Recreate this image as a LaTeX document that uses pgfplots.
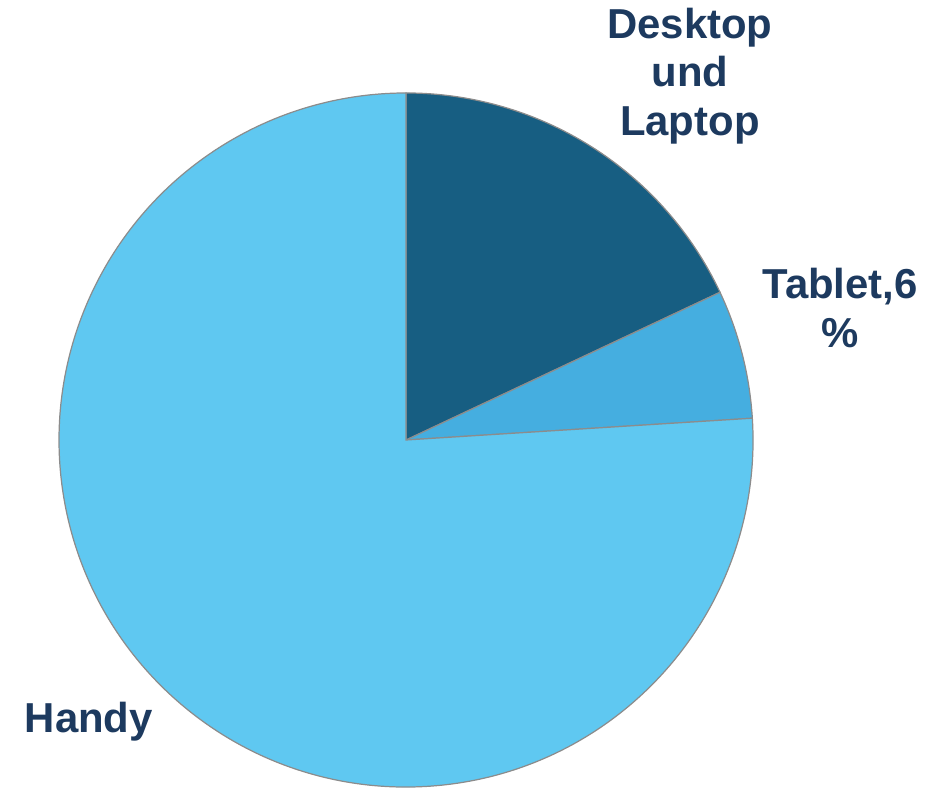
\documentclass[border=0pt]{standalone}
\usepackage{fontspec}
\setmainfont{Liberation Sans}
\usepackage{pgfplots}
\pgfplotsset{compat=1.18}

\definecolor{cDesk}{HTML}{175E82}
\definecolor{cTab}{HTML}{45AEE0}
\definecolor{cHandy}{HTML}{5FC8F1}
\definecolor{cText}{HTML}{1D3A5F}
\definecolor{cEdge}{HTML}{8C8C8C}

% shares in percent
\def\pDesk{18}
\def\pTab{6}
\def\pHandy{76}

\pgfmathsetmacro{\aA}{90}
\pgfmathsetmacro{\aB}{\aA-3.6*\pDesk}
\pgfmathsetmacro{\aC}{\aB-3.6*\pTab}
\pgfmathsetmacro{\aD}{\aC-3.6*\pHandy}

\begin{document}
\begin{tikzpicture}
\begin{axis}[
    x=3cm, y=3cm,
    xmin=-1.170, xmax=1.556,
    ymin=-1.017, ymax=1.268,
    hide axis,
    clip=false,
]
% fixed frame so the page has the reference's proportions
\path (axis cs:-1.170,-1.017) rectangle (axis cs:1.556,1.268);

\filldraw[fill=cDesk, draw=cEdge, line width=0.3pt]
    (axis cs:0,0) -- (axis cs:{cos(\aA)},{sin(\aA)})
    arc[start angle=\aA, end angle=\aB, radius=3cm] -- cycle;
\filldraw[fill=cTab, draw=cEdge, line width=0.3pt]
    (axis cs:0,0) -- (axis cs:{cos(\aB)},{sin(\aB)})
    arc[start angle=\aB, end angle=\aC, radius=3cm] -- cycle;
\filldraw[fill=cHandy, draw=cEdge, line width=0.3pt]
    (axis cs:0,0) -- (axis cs:{cos(\aC)},{sin(\aC)})
    arc[start angle=\aC, end angle=\aD, radius=3cm] -- cycle;

\node[inner sep=0pt, text=cText, font=\fontsize{10.3}{11.9}\selectfont\bfseries, align=center]
    at (axis cs:0.818,1.049) {Desktop\\und\\Laptop};
\node[inner sep=0pt, text=cText, font=\fontsize{10.3}{11.9}\selectfont\bfseries, align=center]
    at (axis cs:1.251,0.380) {Tablet,6\\\%};
\node[inner sep=0pt, text=cText, font=\fontsize{10.3}{11.9}\selectfont\bfseries]
    at (axis cs:-0.914,-0.813) {Handy};
\end{axis}
\end{tikzpicture}
\end{document}
